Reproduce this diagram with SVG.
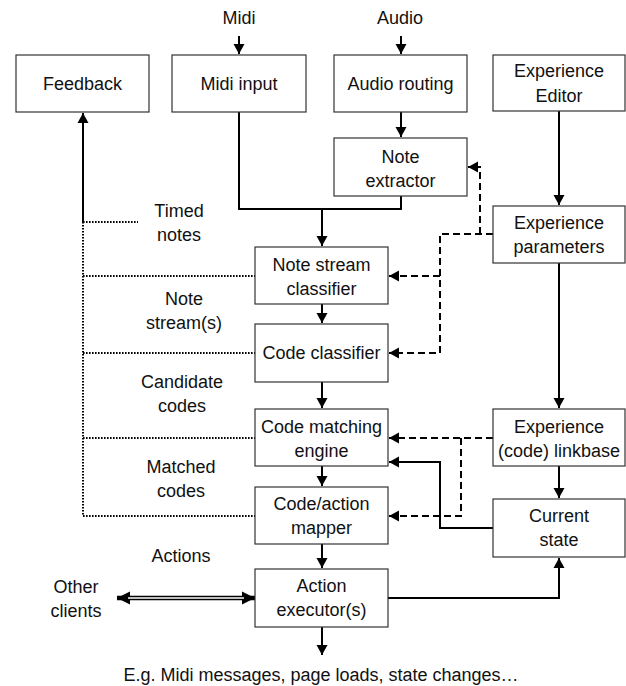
<svg xmlns="http://www.w3.org/2000/svg" width="626" height="686" viewBox="0 0 626 686">
<style>
.box{fill:#fff;stroke:#333;stroke-width:1.2}
text{font-family:"Liberation Sans",Arial,sans-serif;font-size:18px;fill:#111;text-anchor:middle}
.ln{fill:none;stroke:#000;stroke-width:2}
.da{fill:none;stroke:#000;stroke-width:2;stroke-dasharray:7 4}
.dt{fill:none;stroke:#000;stroke-width:2;stroke-dasharray:1.6 1.4}
</style>
<defs>
<marker id="ah" markerUnits="userSpaceOnUse" markerWidth="11" markerHeight="12" refX="10" refY="6" orient="auto" viewBox="0 0 11 12">
<path d="M0,0.5 L10,6 L0,11.5 z" fill="#000"/>
</marker>
<marker id="ah2" markerUnits="userSpaceOnUse" markerWidth="14" markerHeight="14" refX="13" refY="7" orient="auto-start-reverse" viewBox="0 0 14 14">
<path d="M0,0.5 L13,7 L0,13.5 z" fill="#000"/>
</marker>
</defs>

<g id="connectors">
<path class="ln" d="M239,36 V54" marker-end="url(#ah)"/>
<path class="ln" d="M401,36 V54" marker-end="url(#ah)"/>
<path class="ln" d="M401,112 V137" marker-end="url(#ah)"/>
<path class="ln" d="M559,111 V205" marker-end="url(#ah)"/>
<path class="ln" d="M239,112 V209 H401 V196"/>
<path class="ln" d="M322,209 V246" marker-end="url(#ah)"/>
<path class="ln" d="M322,304 V323" marker-end="url(#ah)"/>
<path class="ln" d="M322,382 V408" marker-end="url(#ah)"/>
<path class="ln" d="M322,466 V486" marker-end="url(#ah)"/>
<path class="ln" d="M322,544 V568" marker-end="url(#ah)"/>
<path class="ln" d="M322,627 V655" marker-end="url(#ah)"/>
<path class="ln" d="M559,263 V408" marker-end="url(#ah)"/>
<path class="ln" d="M559,466 V498" marker-end="url(#ah)"/>
<path class="ln" d="M388,598 H559 V558" marker-end="url(#ah)"/>
<path class="ln" d="M493,528 H440 V462 H389" marker-end="url(#ah)"/>
<path class="da" d="M493,234 H440 V353 H389" marker-end="url(#ah)"/>
<path class="da" d="M440,276 H389" marker-end="url(#ah)"/>
<path class="da" d="M480,234 V167 H468" marker-end="url(#ah)"/>
<path class="da" d="M493,438 H389" marker-end="url(#ah)"/>
<path class="da" d="M461,438 V516 H389" marker-end="url(#ah)"/>
<path class="ln" d="M83,223 V113" marker-end="url(#ah)"/>
<path class="dt" d="M83,222 V516 H255"/>
<path class="dt" d="M83,222 H138"/>
<path class="dt" d="M83,276 H255"/>
<path class="dt" d="M83,353 H255"/>
<path class="dt" d="M83,438 H255"/>
<path fill="none" stroke="#000" stroke-width="4.5" d="M117,598 H255" marker-start="url(#ah2)" marker-end="url(#ah2)"/>
<path fill="none" stroke="#fff" stroke-width="1.3" d="M128,598 H244"/>
</g>

<g id="feedback"><rect class="box" x="16" y="55" width="133" height="57"/><text x="82.5" y="90">Feedback</text></g>
<g id="midi-input"><rect class="box" x="172" y="55" width="134" height="57"/><text x="239" y="90">Midi input</text></g>
<g id="audio-routing"><rect class="box" x="334" y="55" width="133" height="57"/><text x="400.5" y="90">Audio routing</text></g>
<g id="experience-editor"><rect class="box" x="493" y="55" width="132" height="56"/><text x="559" y="77">Experience</text><text x="559" y="102">Editor</text></g>
<g id="note-extractor"><rect class="box" x="334" y="138" width="133" height="58"/><text x="400.5" y="163">Note</text><text x="400.5" y="187">extractor</text></g>
<g id="experience-parameters"><rect class="box" x="493" y="206" width="132" height="57"/><text x="559" y="229">Experience</text><text x="559" y="253">parameters</text></g>
<g id="note-stream-classifier"><rect class="box" x="255" y="247" width="133" height="57"/><text x="321.5" y="271">Note stream</text><text x="321.5" y="295">classifier</text></g>
<g id="code-classifier"><rect class="box" x="255" y="324" width="133" height="58"/><text x="321.5" y="359">Code classifier</text></g>
<g id="code-matching-engine"><rect class="box" x="255" y="409" width="133" height="57"/><text x="321.5" y="433">Code matching</text><text x="321.5" y="457">engine</text></g>
<g id="experience-linkbase"><rect class="box" x="493" y="409" width="132" height="57"/><text x="559" y="433">Experience</text><text x="559" y="457">(code) linkbase</text></g>
<g id="code-action-mapper"><rect class="box" x="255" y="487" width="133" height="57"/><text x="321.5" y="510">Code/action</text><text x="321.5" y="534">mapper</text></g>
<g id="current-state"><rect class="box" x="493" y="499" width="132" height="58"/><text x="559" y="522">Current</text><text x="559" y="546">state</text></g>
<g id="action-executor"><rect class="box" x="255" y="569" width="133" height="58"/><text x="321.5" y="592">Action</text><text x="321.5" y="616">executor(s)</text></g>

<g id="labels">
<text x="239" y="24">Midi</text>
<text x="400" y="24">Audio</text>
<text x="179" y="217">Timed</text>
<text x="179" y="241">notes</text>
<text x="184" y="305">Note</text>
<text x="184" y="329">stream(s)</text>
<text x="182" y="388">Candidate</text>
<text x="182" y="412">codes</text>
<text x="181" y="473">Matched</text>
<text x="181" y="497">codes</text>
<text x="181" y="562">Actions</text>
<text x="76" y="593">Other</text>
<text x="76" y="617">clients</text>
<text x="321" y="681">E.g. Midi messages, page loads, state changes…</text>
</g>
</svg>
